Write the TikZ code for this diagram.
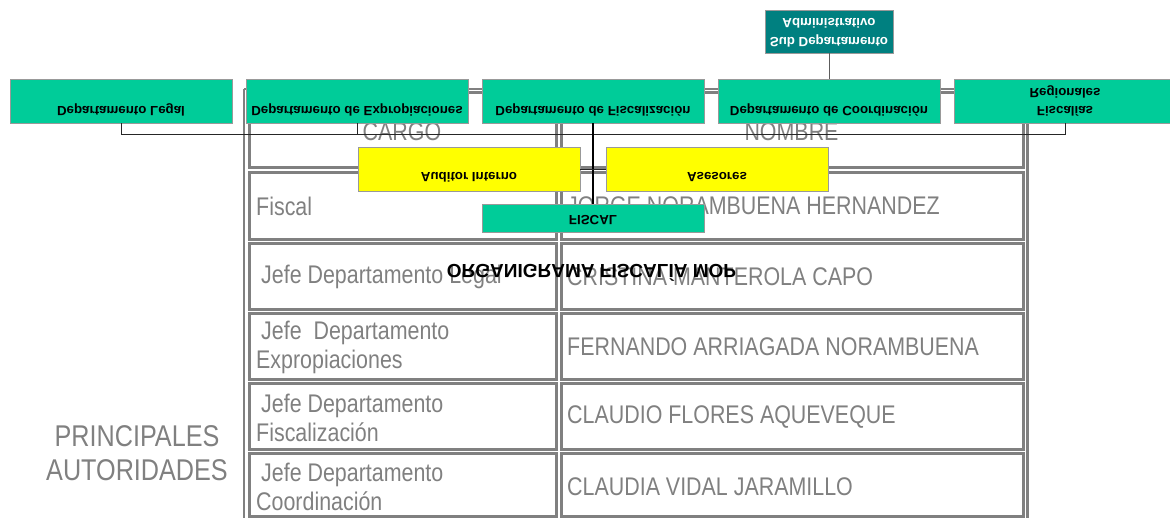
\documentclass[tikz,border=0pt]{standalone}
\usepackage{fontspec}
\usepackage{graphicx}
\usetikzlibrary{calc}
\setmainfont{Liberation Sans}
\newfontfamily\narrowfont[FakeStretch=0.84]{Liberation Sans}
\definecolor{orgGreen}{HTML}{00CC99}
\definecolor{orgTeal}{HTML}{008080}
\definecolor{orgYellow}{HTML}{FFFF00}
\definecolor{tabGray}{HTML}{808080}
\definecolor{boxLine}{HTML}{999999}
\newcommand{\flipT}[1]{\scalebox{1}[-1]{#1}}
\tikzset{
  tabcell/.style={draw=tabGray, line width=3pt},
  tabframe/.style={draw=tabGray, line width=2pt},
  tabtext/.style={text=tabGray, inner sep=0pt, font=\narrowfont\fontsize{25.5}{29}\selectfont, align=left},
  orgbox/.style={draw=boxLine, line width=0.8pt, inner sep=0pt, minimum width=222pt, minimum height=44pt},
  dept/.style={orgbox, fill=orgGreen},
  helper/.style={orgbox, fill=orgYellow},
  orgtext/.style={inner sep=0pt, font=\bfseries\fontsize{13.3}{18.5}\selectfont, align=center},
  conn/.style={draw=black!85, line width=1pt},
  trunk/.style={draw=black, line width=1.6pt}
}
\begin{document}
\begin{tikzpicture}[x=1pt,y=-1pt]
\useasboundingbox (0,0) rectangle (1170,518);
\clip (0,0) rectangle (1170,518);

% ---------- table ----------
\draw[tabframe] (244,89) -- (244,530);
\draw[tabframe] (244,89) -- (1027,89);
\draw[tabGray, line width=3pt] (1027,89) -- (1027,530);
\foreach \ya/\yb in {93/168, 173/239.5, 243.5/309.5, 313.5/379.5, 383.5/449.5, 453.5/516.5}{
  \draw[tabcell] (249,\ya) rectangle (556,\yb);
  \draw[tabcell] (561.5,\ya) rectangle (1023,\yb);
}

\node[tabtext] (hcargo) at (402,132) {CARGO};
\node[tabtext] (hnombre) at (791.5,132) {NOMBRE};

\node[tabtext, anchor=west] (c1) at (256,206) {Fiscal};
\node[tabtext, anchor=west] (n1) at (567,206) {JORGE NORAMBUENA HERNANDEZ};

\node[tabtext, anchor=west] (c2) at (256,277) {\hspace*{5pt}Jefe Departamento Legal};
\node[tabtext, anchor=west] (n2) at (567,277) {CRISTINA MANTEROLA CAPO};

\node[tabtext, anchor=west] (c3) at (256,347) {\hspace*{5pt}Jefe\ \ Departamento\\Expropiaciones};
\node[tabtext, anchor=west] (n3) at (567,347) {FERNANDO ARRIAGADA NORAMBUENA};

\node[tabtext, anchor=west] (c4) at (256,418) {\hspace*{5pt}Jefe Departamento\\Fiscalización};
\node[tabtext, anchor=west] (n4) at (567,417) {CLAUDIO FLORES AQUEVEQUE};

\node[tabtext, anchor=west] (c5) at (256,487) {\hspace*{5pt}Jefe Departamento\\Coordinación};
\node[tabtext, anchor=west] (n5) at (567,487) {CLAUDIA VIDAL JARAMILLO};

\node[text=tabGray, inner sep=0pt, align=center, font=\narrowfont\fontsize{30}{34}\selectfont] (autoridades) at (137,453) {PRINCIPALES\\AUTORIDADES};

% ---------- organigram (mirrored) ----------
\node[orgbox, fill=orgTeal, minimum width=128pt, minimum height=43pt] (subdep) at (829,31.5) {};
\node[dept] (legal) at (121,101) {};
\node[dept] (exprop) at (357,101) {};
\node[dept] (fiscaliz) at (593,101) {};
\node[dept] (coord) at (829,101) {};
\node[dept] (fiscalias) at (1065,101) {};
\node[helper] (auditor) at (469,169.5) {};
\node[helper] (asesores) at (717,169.5) {};
\node[dept, minimum height=28pt] (fiscal) at (593,218) {};

% connectors
\draw[conn] (legal.south) -- (legal.south |- 0,135) -- (fiscalias.south |- 0,135) -- (fiscalias.south);
\draw[conn] (exprop.south) -- (exprop.south |- 0,135);
\draw[trunk] (fiscaliz.south) -- (fiscal.north);
\draw[conn] (auditor.east) -- (asesores.west);
\draw[conn, draw=boxLine!60!black] (subdep.south) -- (coord.north);

% box texts
\node[orgtext, text=white] (tsubdep) at (subdep.center) {\flipT{\begin{tabular}{@{}c@{}}Sub Departamento\\Administrativo\end{tabular}}};
\node[orgtext] (tlegal) at ($(legal.center)+(0,9)$) {\flipT{Departamento Legal}};
\node[orgtext] (texprop) at ($(exprop.center)+(0,9)$) {\flipT{Departamento de Expropiaciones}};
\node[orgtext] (tfiscaliz) at ($(fiscaliz.center)+(0,9)$) {\flipT{Departamento de Fiscalización}};
\node[orgtext] (tcoord) at ($(coord.center)+(0,9)$) {\flipT{Departamento de Coordinación}};
\node[orgtext] (tfiscalias) at (fiscalias.center) {\flipT{\begin{tabular}{@{}c@{}}Fiscalías\\Regionales\end{tabular}}};
\node[orgtext] (tauditor) at ($(auditor.center)+(0,7.5)$) {\flipT{Auditor Interno}};
\node[orgtext] (tasesores) at ($(asesores.center)+(0,7.5)$) {\flipT{Asesores}};
\node[orgtext] (tfiscal) at ($(fiscal.center)+(0,2)$) {\flipT{FISCAL}};

\node[inner sep=0pt, font=\bfseries\fontsize{19}{22}\selectfont] (title) at (591.5,273) {\flipT{ORGANIGRAMA FISCALÍA MOP}};
\end{tikzpicture}
\end{document}
